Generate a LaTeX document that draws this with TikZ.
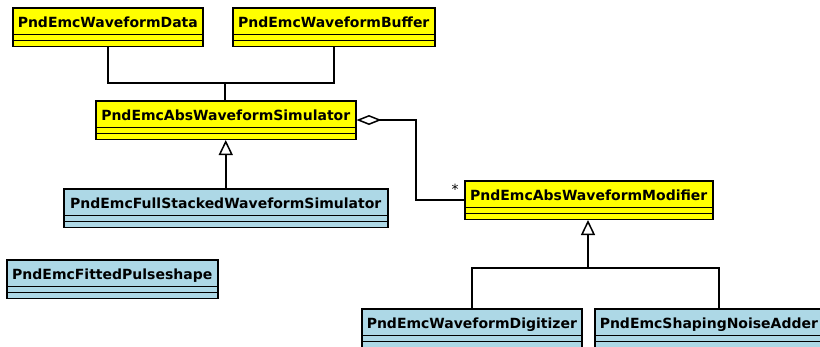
\documentclass[tikz,border=0pt]{standalone}
\usepackage{fontspec}
\newfontfamily\classfamily{DejaVu Sans}
\usetikzlibrary{arrows.meta, shapes.multipart, positioning, calc}
\definecolor{clsyellow}{HTML}{FFFF00}
\definecolor{clsblue}{HTML}{ADD8E6}
\newcommand{\clsstrut}{\rule[-6pt]{0pt}{25pt}}
\tikzset{
  umlclass/.style={
    rectangle split, rectangle split parts=3, draw=black, line width=1.5pt,
    fill=#1, anchor=north west, inner xsep=5pt, inner ysep=0pt,
    rectangle split empty part height=4.5pt, rectangle split empty part depth=0pt,
    font=\classfamily\bfseries\fontsize{14}{16}\selectfont
  },
  baseclass/.style={umlclass=clsyellow},
  subclass/.style={umlclass=clsblue},
  link/.style={line width=1.5pt},
  inherit/.style={link, -{Triangle[open, length=15pt, width=14pt]}},
  aggregate/.style={link, {Diamond[open, length=25pt, width=10pt]}-},
  multlabel/.style={font=\classfamily\fontsize{14}{16}\selectfont}
}

\begin{document}
\begin{tikzpicture}[x=1pt, y=-1pt]
    \useasboundingbox (0,0) rectangle (820,346);
    \clip (0,0) rectangle (820,346);
    
    % Classes
    \node[baseclass, minimum width=190pt] (data) at (12,7) {\clsstrut PndEmcWaveformData};
    \node[baseclass, minimum width=202pt] (buffer) at (232,7) {\clsstrut PndEmcWaveformBuffer};
    \node[baseclass, minimum width=260pt] (sim) at (95,100) {\clsstrut PndEmcAbsWaveformSimulator};
    \node[subclass, minimum width=324pt] (full) at (63,188) {\clsstrut PndEmcFullStackedWaveformSimulator};
    \node[baseclass, minimum width=248pt] (mod) at (464,180) {\clsstrut PndEmcAbsWaveformModifier};
    \node[subclass, minimum width=211pt] (fitted) at (6,259) {\clsstrut PndEmcFittedPulseshape};
    \node[subclass, minimum width=220pt] (dig) at (361,308) {\clsstrut PndEmcWaveformDigitizer};
    \node[subclass, minimum width=228pt] (adder) at (594,308) {\clsstrut PndEmcShapingNoiseAdder};
    
    % Usage of data and buffer
    \coordinate (simjoin) at (225,83);
    \draw[link] (data.south) |- (simjoin) -| (buffer.south);
    \draw[link] (simjoin) -- (simjoin |- sim.north);
    
    % Aggregation of modifiers
    \coordinate (aggbend) at (416,119);
    \draw[aggregate] (sim.east) -- (sim.east -| aggbend) |- (mod.west);
    \node[multlabel] (mult) at (455,189) {*};
    
    % Inheritance
    \draw[inherit] (full.north) -- (full.north |- sim.south);
    \coordinate (modjoin) at (588,268);
    \coordinate (addertop) at (719,308);
    \draw[link] (dig.north) |- (modjoin) -| (addertop);
    \draw[inherit] (modjoin) -- (modjoin |- mod.south);
    
\end{tikzpicture}
\end{document}
